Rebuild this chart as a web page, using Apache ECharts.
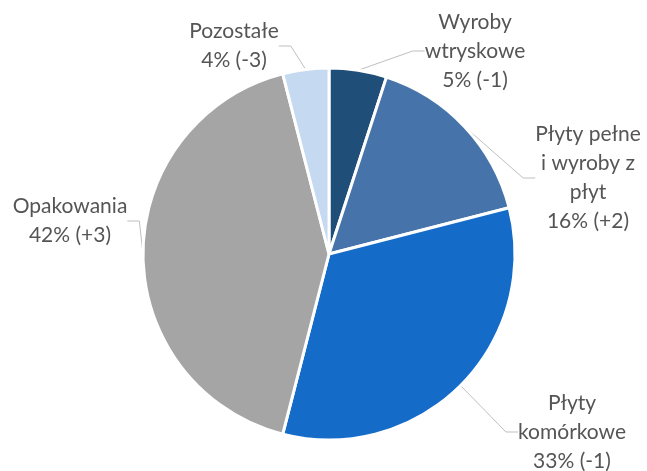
<!DOCTYPE html>
<html>
<head>
<meta charset="utf-8">
<script src="https://cdn.jsdelivr.net/npm/echarts@6/dist/echarts.min.js"></script>
<style>
  html, body { margin: 0; padding: 0; background: #fff; }
  #chart { width: 647px; height: 471px; }
</style>
</head>
<body>
<div id="chart"></div>
<script>
// segments, clockwise from 12 o'clock
const categories = ['Wyroby\nwtryskowe', 'Płyty pełne\ni wyroby z\npłyt', 'Płyty\nkomórkowe', 'Opakowania', 'Pozostałe'];
const shares = [5, 16, 33, 42, 4];
const changes = ['-1', '+2', '-1', '+3', '-3'];
const colors = ['#1f4e79', '#4674aa', '#156bc8', '#a5a5a5', '#c5d9f0'];

// where each label block sits (centre of the text block)
const labelSpots = [
  { x: 475, y: 51 },
  { x: 588, y: 178 },
  { x: 572, y: 432 },
  { x: 70, y: 221 },
  { x: 234, y: 46 }
];

const chart = echarts.init(document.getElementById('chart'));

chart.setOption({
  animation: false,
  backgroundColor: '#fff',
  series: [
    {
      type: 'pie',
      center: [329, 254],
      radius: [0, 186],
      startAngle: 90,
      clockwise: true,
      itemStyle: {
        borderColor: '#fff',
        borderWidth: 3
      },
      label: {
        show: true,
        position: 'outside',
        overflow: 'none',
        fontFamily: 'Lato, Liberation Sans, sans-serif',
        fontSize: 21,
        lineHeight: 29,
        color: '#555555',
        align: 'center',
        formatter: p => p.name + '\n' + p.value + '% (' + changes[p.dataIndex] + ')'
      },
      labelLine: {
        show: true,
        length: 12,
        length2: 12,
        lineStyle: { color: '#bfbfbf', width: 1 }
      },
      labelLayout: p => {
        const s = labelSpots[p.dataIndex];
        return {
          x: s.x,
          y: s.y,
          align: 'center',
          verticalAlign: 'middle'
        };
      },
      data: categories.map((name, i) => ({
        name: name,
        value: shares[i],
        itemStyle: { color: colors[i] }
      }))
    }
  ]
});
</script>
</body>
</html>
